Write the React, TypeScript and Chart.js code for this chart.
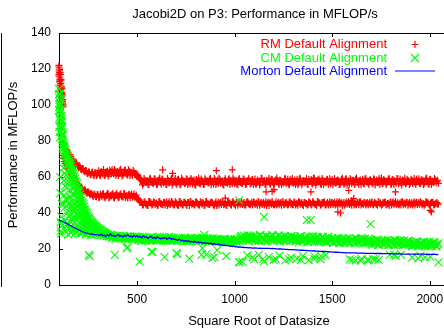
import React, { useEffect, useRef } from "react";
import { Chart, registerables } from "chart.js";
Chart.register(...registerables);

const titleText = "Jacobi2D on P3: Performance in MFLOP/s";
const xTitle = "Square Root of Datasize";
const yTitle = "Performance in MFLOP/s";
const seriesNames = ["RM Default Alignment", "CM Default Alignment", "Morton Default Alignment"];
const seriesColors = ["#ff0000", "#00ff00", "#0000ff"];
const xTicks = [500, 1000, 1500, 2000];
const yTicks = [0, 20, 40, 60, 80, 100, 120, 140];

const sizes = [
  100,108,116,124,132,140,148,156,164,172,180,188,196,204,212,220,228,236,244,252,260,268,276,284,292,
  300,308,316,324,332,340,348,356,364,372,380,388,396,404,412,420,428,436,444,452,460,468,476,484,492,
  500,508,516,524,532,540,548,556,564,572,580,588,596,604,612,620,628,636,644,652,660,668,676,684,692,
  700,708,716,724,732,740,748,756,764,772,780,788,796,804,812,820,828,836,844,852,860,868,876,884,892,
  900,908,916,924,932,940,948,956,964,972,980,988,996,1004,1012,1020,1028,1036,1044,1052,1060,1068,1076,1084,1092,
  1100,1108,1116,1124,1132,1140,1148,1156,1164,1172,1180,1188,1196,1204,1212,1220,1228,1236,1244,1252,1260,1268,1276,1284,1292,
  1300,1308,1316,1324,1332,1340,1348,1356,1364,1372,1380,1388,1396,1404,1412,1420,1428,1436,1444,1452,1460,1468,1476,1484,1492,
  1500,1508,1516,1524,1532,1540,1548,1556,1564,1572,1580,1588,1596,1604,1612,1620,1628,1636,1644,1652,1660,1668,1676,1684,1692,
  1700,1708,1716,1724,1732,1740,1748,1756,1764,1772,1780,1788,1796,1804,1812,1820,1828,1836,1844,1852,1860,1868,1876,1884,1892,
  1900,1908,1916,1924,1932,1940,1948,1956,1964,1972,1980,1988,1996,2004,2012,2020,2028,2036,2044,
];

const sizesMid = [
  104,112,120,128,136,144,152,160,168,176,184,192,200,208,216,224,232,240,248,256,264,272,280,288,296,
  304,312,320,328,336,344,352,360,368,376,384,392,400,408,416,424,432,440,448,456,464,472,480,488,496,
  504,512,520,528,536,544,552,560,568,576,584,592,600,608,616,624,632,640,648,656,664,672,680,688,696,
  704,712,720,728,736,744,752,760,768,776,784,792,800,808,816,824,832,840,848,856,864,872,880,888,896,
  904,912,920,928,936,944,952,960,968,976,984,992,1000,1008,1016,1024,1032,1040,1048,1056,1064,1072,1080,1088,1096,
  1104,1112,1120,1128,1136,1144,1152,1160,1168,1176,1184,1192,1200,1208,1216,1224,1232,1240,1248,1256,1264,1272,1280,1288,1296,
  1304,1312,1320,1328,1336,1344,1352,1360,1368,1376,1384,1392,1400,1408,1416,1424,1432,1440,1448,1456,1464,1472,1480,1488,1496,
  1504,1512,1520,1528,1536,1544,1552,1560,1568,1576,1584,1592,1600,1608,1616,1624,1632,1640,1648,1656,1664,1672,1680,1688,1696,
  1704,1712,1720,1728,1736,1744,1752,1760,1768,1776,1784,1792,1800,1808,1816,1824,1832,1840,1848,1856,1864,1872,1880,1888,1896,
  1904,1912,1920,1928,1936,1944,1952,1960,1968,1976,1984,1992,2000,2008,2016,2024,2032,2040,
];

const rmHigh = [
  121,114,106,78.3,75.6,75.2,72.6,72.4,69.8,69.9,67.5,67.9,65.7,66.2,64.3,64.8,63.2,63.6,62.1,62.9,61.4,62.5,61.1,62.3,60.9,
  62.4,61.2,63.1,61.8,60.9,62.7,63.4,61.5,62.9,64.0,61.7,63.3,62.2,60.8,63.6,62.5,61.3,63.8,62.0,61.1,63.2,62.6,60.9,62.8,61.6,
  61.5,59.8,58.6,57.9,56.4,58.3,57.1,55.9,58.7,57.6,56.8,59.0,57.3,56.1,58.4,57.0,58.9,56.6,57.7,55.8,58.1,57.4,59.1,56.9,57.8,
  56.3,58.5,57.2,55.9,58.0,57.5,56.7,58.8,57.1,56.2,58.3,57.7,55.7,58.6,57.0,56.5,58.9,57.3,56.0,58.2,57.6,56.8,59.2,57.4,56.1,
  58.4,57.0,56.4,58.7,57.5,55.8,58.1,57.2,56.6,59.0,57.8,56.3,58.5,57.1,55.9,58.3,57.6,56.7,58.9,57.3,56.2,58.0,57.7,56.5,58.6,
  57.2,56.0,58.4,57.5,56.8,59.1,57.3,55.8,58.2,57.6,56.4,58.8,57.0,56.6,58.5,57.9,55.9,58.1,57.4,56.7,59.0,57.2,56.3,58.6,57.8,
  56.5,58.3,57.1,55.7,58.9,57.5,56.8,58.0,57.3,56.1,58.7,57.6,56.4,59.2,57.0,56.9,58.4,57.7,55.9,58.2,57.4,56.6,58.8,57.1,56.3,
  58.5,57.3,56.7,58.1,57.8,55.8,58.6,57.2,56.5,59.0,57.5,56.2,58.3,57.9,56.8,58.7,57.1,55.9,58.4,57.6,56.4,58.9,57.3,56.6,58.2,
  57.7,56.1,58.5,57.4,56.9,59.1,57.8,56.3,58.6,57.2,56.7,58.8,57.5,56.0,58.3,57.9,56.5,59.0,57.6,56.8,58.4,57.3,56.2,58.7,57.8,
  56.6,58.2,57.5,56.9,58.9,57.7,56.4,58.5,57.9,56.7,59.0,57.4,56.3,58.6,57.8,56.8,58.3,57.6,56.5,
];

const rmHighMid = [
  118,110,79.0,76.5,74.6,73.8,71.6,71.2,69.1,68.9,67.0,66.8,65.3,65.7,64.0,64.6,62.9,63.5,61.8,62.7,61.2,62.8,60.8,62.4,61.3,
  63.5,60.7,62.3,64.1,61.0,62.8,60.5,63.9,61.6,62.4,64.2,60.8,63.0,61.9,64.3,60.6,62.7,63.7,61.2,64.0,60.7,62.1,63.6,61.4,60.9,
  60.8,59.0,58.4,55.6,59.2,56.9,58.0,55.8,59.3,57.0,56.2,58.9,55.7,57.8,59.4,56.0,58.6,57.3,55.9,59.1,56.7,58.2,55.6,57.5,59.2,
  56.0,58.7,55.7,59.3,57.2,56.4,58.9,55.8,57.9,59.2,56.1,58.4,55.6,57.6,59.4,56.3,58.1,55.9,59.0,57.4,56.6,58.8,55.7,57.7,59.1,
  55.9,58.2,59.3,56.5,57.8,55.6,59.0,56.8,58.5,55.8,57.3,59.4,56.2,58.0,55.7,59.1,57.0,56.4,58.7,55.9,57.6,59.2,56.1,58.3,55.8,
  58.9,56.3,57.7,55.6,59.3,56.9,58.1,55.9,57.4,59.2,56.0,58.6,55.7,57.9,59.4,56.5,58.3,55.8,57.2,59.0,56.2,58.7,55.6,57.8,59.1,
  57.0,55.8,58.8,56.4,59.3,55.7,58.0,56.8,59.1,55.9,57.5,58.6,56.1,59.4,55.6,57.8,58.9,56.3,59.2,55.8,57.3,58.5,56.0,59.0,57.6,
  55.7,59.1,56.6,58.4,55.9,57.2,59.3,56.0,58.7,55.6,57.9,59.0,56.4,58.2,55.8,59.4,56.9,57.6,55.7,58.8,56.2,59.2,57.4,55.9,58.5,
  56.8,59.0,55.6,58.3,57.1,55.9,59.4,56.5,58.0,55.7,57.7,59.2,56.1,58.6,55.8,57.5,59.1,56.3,58.9,55.6,57.9,59.3,56.7,58.1,55.9,
  58.7,56.2,59.2,55.8,57.6,59.0,56.5,58.4,55.7,57.9,59.3,56.0,58.8,55.9,57.4,59.1,56.6,58.2,
];

const rmLow = [
  117,109,102,70.2,67.6,66.4,64.1,63.3,61.0,60.4,58.1,57.5,55.4,55.2,53.6,53.4,52.0,52.3,51.0,51.4,50.1,50.6,49.3,50.2,49.0,
  50.1,48.7,49.8,50.6,48.9,49.4,50.8,48.5,49.9,50.3,48.8,49.6,51.0,48.6,50.2,49.3,48.9,50.7,49.5,48.4,50.4,49.8,48.7,50.5,49.2,
  48.4,47.3,46.2,45.8,44.6,46.1,45.0,44.2,46.4,45.5,44.8,46.0,45.2,44.3,46.3,45.1,44.7,45.9,44.4,46.2,45.3,44.9,46.5,45.0,44.5,
  45.7,44.3,46.2,45.1,44.6,46.0,45.4,44.2,45.8,46.4,44.9,45.3,44.5,46.1,45.0,44.4,45.9,45.6,44.1,46.3,45.2,44.8,45.7,46.0,44.6,
  45.3,44.2,46.1,45.6,44.7,45.9,45.0,44.4,46.3,45.4,44.6,45.8,45.1,44.3,46.0,45.5,44.9,46.2,45.2,44.5,45.7,46.1,44.8,45.3,44.4,
  45.9,45.0,44.3,46.2,45.4,44.7,45.8,45.1,44.2,46.0,45.6,44.9,45.3,44.5,46.3,45.2,44.6,45.7,46.1,44.4,45.5,45.0,44.8,46.2,45.3,
  44.6,45.8,45.2,44.3,46.0,45.5,44.7,45.9,45.1,44.4,46.3,45.4,44.9,45.7,45.0,44.2,46.1,45.6,44.8,45.3,46.0,44.5,45.8,45.1,44.6,
  45.9,45.3,44.4,46.2,45.5,44.8,45.7,45.0,44.3,46.1,45.6,44.7,45.4,46.0,44.5,45.2,45.8,44.6,46.3,45.1,44.9,45.7,45.3,44.4,46.0,
  45.5,44.8,45.9,45.2,44.3,46.1,45.6,44.7,45.4,46.0,44.6,45.1,45.8,44.4,46.2,45.3,44.9,45.7,45.0,44.5,46.1,45.5,44.8,45.9,45.2,
  44.6,45.8,45.3,44.4,46.0,45.5,44.9,45.7,45.1,44.3,46.2,45.6,44.7,45.4,45.9,44.6,45.2,45.8,45.0,
];

const rmLowMid = [
  114,106,72.0,68.6,67.4,64.9,64.2,61.9,61.3,59.0,58.5,56.3,56.0,54.3,54.0,52.6,53.0,51.4,51.9,50.5,51.0,49.6,50.5,49.2,50.3,
  48.6,50.4,49.1,50.7,48.5,49.9,50.6,48.7,49.4,50.9,48.4,50.1,49.6,48.8,50.5,49.0,50.8,48.6,49.7,50.2,48.5,50.6,49.3,48.8,50.0,
  47.8,46.7,46.0,44.4,46.3,45.0,44.2,46.4,45.7,44.5,46.1,44.9,45.6,44.3,46.4,45.2,44.6,46.0,45.4,44.2,46.3,44.8,45.9,44.5,46.2,
  45.0,44.3,46.4,45.6,44.5,46.0,44.8,45.8,44.2,46.3,45.3,44.6,46.1,45.5,44.4,46.2,44.9,45.7,44.3,46.4,45.1,44.7,46.0,45.4,44.2,
  46.2,45.0,44.4,45.8,46.3,44.6,45.3,44.2,46.0,45.6,44.5,46.4,44.9,45.7,44.3,46.1,45.2,44.7,45.9,44.4,46.3,45.1,44.6,45.8,46.2,
  44.8,45.5,46.3,44.3,45.9,45.1,44.5,46.2,45.4,44.2,45.7,46.4,44.7,45.2,44.4,46.0,45.6,44.3,46.3,44.9,45.8,44.5,46.1,45.0,44.6,
  46.1,44.5,45.4,46.3,44.8,45.7,44.2,46.0,45.3,44.6,45.9,44.4,46.2,45.0,44.7,46.4,45.5,44.3,45.8,46.1,44.6,45.2,44.4,46.3,45.7,
  44.7,46.0,45.2,44.4,46.3,45.6,44.2,45.9,45.1,44.8,46.2,45.4,44.3,46.4,45.0,44.6,45.7,46.1,44.5,45.3,46.0,44.4,45.8,45.2,44.9,
  46.2,44.5,45.6,44.9,46.3,45.1,44.3,45.8,46.0,44.7,45.4,44.2,46.1,45.5,44.8,46.4,45.0,44.4,45.7,46.2,44.6,45.3,46.0,44.3,45.9,
  45.1,44.4,46.2,45.5,44.7,45.9,46.3,44.5,45.2,44.8,46.1,45.6,44.3,45.8,46.0,44.6,45.4,44.9,
];

const cmBand = [
  106,97,88,78.5,75.2,72.4,70.1,68.3,66.2,63.5,60.8,57.6,54.7,51.9,48.8,46.1,43.5,41.2,39.4,37.6,36.1,34.8,33.9,33.0,32.2,
  31.5,30.8,30.2,29.5,29.1,28.4,28.0,27.3,27.8,26.6,27.4,26.2,27.0,25.9,26.8,26.1,27.2,25.8,26.5,27.1,25.7,26.4,26.9,25.6,26.3,
  26.8,25.1,26.2,24.7,25.9,26.6,24.9,25.5,26.4,25.0,24.6,26.1,25.3,26.7,24.8,25.6,26.3,24.5,25.8,26.0,24.7,25.4,26.5,25.1,24.9,
  25.9,24.3,25.6,26.2,24.7,25.1,26.0,24.5,25.4,25.8,24.2,25.7,26.1,24.6,25.2,25.9,24.4,25.5,26.0,24.8,25.3,24.1,25.8,25.0,24.6,
  25.5,24.0,25.2,24.6,23.8,25.4,24.9,23.9,25.1,24.4,25.6,24.1,24.8,25.3,23.9,24.7,25.8,27.2,25.4,26.9,24.8,27.6,25.9,26.5,24.9,
  27.3,25.1,26.6,24.6,27.8,25.7,26.2,24.4,27.1,25.9,26.8,24.9,27.5,25.3,26.0,24.7,27.4,25.6,26.5,24.5,27.0,25.8,26.3,24.8,27.2,
  25.2,26.7,24.3,26.1,25.0,27.0,24.6,25.8,26.4,24.1,26.9,25.4,24.8,26.3,25.7,24.2,26.6,25.1,24.5,26.8,25.5,24.0,26.2,25.3,24.7,
  25.9,23.6,25.2,24.1,26.1,23.4,24.9,25.6,23.7,25.8,24.3,23.2,25.5,24.6,23.9,26.0,24.2,23.5,25.3,24.8,23.1,25.7,24.0,23.8,25.1,
  24.9,22.6,24.3,23.1,25.2,22.4,23.8,24.6,22.7,24.8,23.3,22.2,24.5,23.6,22.9,25.0,23.2,22.5,24.3,23.8,22.1,24.7,23.0,22.8,24.1,
  23.9,21.7,23.4,22.2,24.2,21.5,22.9,23.7,21.8,23.9,22.4,21.3,23.6,22.7,21.9,24.0,22.3,21.6,23.2,
];

const cmBandMid = [
  101,92,83,77.0,73.6,71.5,69.0,67.5,64.6,62.2,59.1,56.3,53.0,50.4,47.2,44.9,42.1,40.3,38.4,36.9,35.3,34.4,33.3,32.6,31.8,
  31.1,30.5,29.8,29.4,28.8,28.1,27.6,26.9,27.7,26.4,27.3,25.9,26.9,27.4,25.8,26.6,27.0,25.6,26.8,25.9,27.1,26.2,25.5,26.7,26.0,
  25.3,26.5,24.6,26.9,25.0,24.8,26.3,25.7,24.5,26.6,25.2,26.0,24.7,25.9,26.8,24.9,25.4,26.4,24.6,25.6,26.7,25.0,24.8,26.2,25.5,
  24.8,26.1,25.3,24.4,25.9,26.3,24.6,25.5,24.3,26.0,25.1,24.7,25.8,26.2,24.5,25.3,24.9,26.1,24.4,25.6,25.9,24.6,25.2,26.0,24.8,
  24.3,25.6,24.1,25.3,24.8,23.8,25.5,24.5,24.0,25.2,24.6,23.9,25.4,24.2,25.0,24.4,26.6,24.7,27.5,25.6,26.2,24.6,27.3,25.5,26.7,
  24.5,26.9,25.4,27.6,24.8,26.4,25.1,27.2,24.3,26.6,25.6,27.7,24.7,26.1,25.2,27.5,24.6,26.7,25.0,27.3,24.4,26.5,25.7,27.0,24.9,
  26.4,24.5,25.9,23.7,27.0,25.0,24.2,26.6,25.5,23.9,26.2,24.7,27.1,24.0,25.6,26.8,23.8,25.2,26.5,24.4,25.8,23.6,26.9,24.8,25.3,
  23.4,25.6,24.0,26.0,23.3,24.7,25.9,23.6,25.1,24.2,26.1,23.5,24.8,25.4,23.1,25.7,24.4,23.8,26.0,24.1,25.3,23.3,24.9,25.8,23.7,
  22.5,24.6,23.2,25.1,22.3,23.9,24.7,22.6,24.2,23.0,25.0,22.4,23.7,24.4,22.1,24.8,23.4,22.7,24.9,23.1,24.3,22.2,23.8,24.6,22.9,
  23.1,21.6,23.8,22.4,24.1,21.9,23.3,22.7,24.0,21.5,23.5,22.2,23.9,21.8,22.8,23.6,21.4,22.6,
];

const mortonLine = [
  36.0,35.7,35.3,35.0,34.6,34.1,33.7,33.2,32.8,32.3,31.8,31.3,30.9,30.4,30.0,29.6,29.3,29.0,28.8,28.6,28.4,28.2,28.1,28.0,27.9,
  27.8,27.5,28.3,27.4,27.7,26.9,27.9,27.3,28.4,27.2,27.6,26.8,27.5,28.1,27.0,27.4,26.7,27.6,27.1,28.0,26.9,27.2,26.6,27.5,26.8,
  27.4,26.6,26.9,26.2,27.3,26.5,26.8,25.9,26.6,27.1,26.0,26.4,25.8,26.7,26.1,25.6,26.3,25.9,26.5,25.5,25.9,26.2,25.4,25.8,25.3,
  25.2,24.8,25.5,24.6,24.9,24.3,24.7,24.1,24.6,23.9,24.2,23.8,24.3,23.6,23.9,23.4,23.8,23.2,23.5,23.1,23.4,22.9,23.2,22.8,22.9,
  22.7,22.5,22.8,22.3,22.4,22.0,22.2,21.8,22.1,21.6,21.7,21.4,21.6,21.2,21.3,21.0,21.2,20.9,21.0,20.8,20.9,20.6,20.7,20.6,20.5,
  20.6,20.5,20.5,20.4,20.5,20.4,20.4,20.3,20.4,20.3,20.3,20.2,20.3,20.2,20.1,20.1,20.0,20.0,19.9,19.9,19.8,19.8,19.7,19.7,19.6,
  19.6,19.5,19.5,19.4,19.4,19.3,19.3,19.2,19.2,19.1,19.1,19.0,19.0,18.9,18.9,18.8,18.8,18.7,18.7,18.6,18.6,18.5,18.5,18.4,18.4,
  18.3,18.3,18.2,18.2,18.1,18.1,18.0,18.0,18.0,17.9,17.9,17.9,17.8,17.8,17.8,17.8,17.7,17.7,17.7,17.7,17.7,17.6,17.6,17.6,17.6,
  17.6,17.6,17.5,17.5,17.5,17.5,17.5,17.4,17.4,17.4,17.4,17.4,17.4,17.3,17.3,17.3,17.3,17.3,17.3,17.3,17.2,17.2,17.2,17.2,17.2,
  17.2,17.2,17.2,17.1,17.1,17.1,17.1,17.1,17.1,17.1,17.0,17.0,17.0,17.0,17.0,17.0,17.0,16.9,16.9,
];

const rmEarlyX = [100,100,101,102,103,104,105,106,107,108,109,110,111,112,113,114,115,116,117,118,119,120,121,122];
const rmEarlyY = [122,116,119,120,113,118,115,111,117,108,112,106,114,104,110,107,102,109,100,105,101,103,99,100];

const rmOutX = [631,682,906,988,952,1161,1192,1202,1391,1585,1600,1610,1529,1543,1824,2003,2008];
const rmOutY = [64,62,63.5,64,48.3,51.7,52,53,51.7,52.5,47,48,40.6,40,51.7,41.5,40.6];

const cmEarlyX = [
  100,100,101,101,102,102,103,103,104,104,105,105,106,106,107,107,108,108,109,109,110,111,112,113,114,115,116,117,118,119,110,112,114,116,
  121,123,125,127,129,131,133,135,137,139,141,143,145,147,151,153,155,157,159,161,165,167,169,171,173,177,179,181,183,185,
  189,191,193,195,199,201,203,205,209,211,213,217,219,221,225,227,231,233,237,239,243,247,251,255,259,263,267,273,279,285,
  291,297,305,313,321,329,337,345,
  118,122,126,134,138,144,150,158,162,168,174,178,184,188,194,198,206,214,218,224,232,238,248,256,264,272,282,
  124,128,132,136,140,146,149,152,154,160,163,166,170,172,176,180,182,186,190,192,196,200,204,208,212,216,222,228,234,240,244,252,260,270,276,288,
];
const cmEarlyY = [
  109,97,104,88,99,93,106,85,95,100,101,82,92,60,97,51,88,35,103,30,90,85,94,83,87,81,91,79,84,77,28.5,38,45,33,
  72,65,58,50,43,36,30,68,61,54,47,40,33,28,64,57,49,42,35,29,61,54,46,38,31,57,50,43,35,29,
  53,46,39,32,49,42,35,28.5,45,38,31,42,35,29,40,33,37,30,35,28,33,30,34,29,32,28,31,29,30.5,28,
  30,28.5,29.5,28,29,27.5,28.5,27.2,
  83,78,76,73,71,70,67,66,64,62,60,58,55,55.5,51,52,47,45,44,41.5,40,38.5,36.5,35.5,34,33,32,
  45,62,55,48,34,58,45,38,31,52,44,36,50,42,45,38,31,42,36,30,44,38,31,40,34,29,36,31,33,31,29,31,30,28,32,31,
];

const cmOutX = [
  253,258,386,447,452,513,574,580,641,702,707,768,830,835,845,855,886,896,911,957,
  1023,1025,1040,1065,1093,1100,1125,1144,1150,1175,1200,1212,1230,1260,1280,1290,1320,1340,1350,1380,
  1408,1410,1440,1442,1465,1590,1603,1620,1646,1650,1680,1688,1710,1722,1738,1795,1816,1825,1852,1910,
  1940,1952,1975,2003,2045,1023,1151,1370,1390,1697,
];
const cmOutY = [
  16.7,16,16.7,20.5,21,13,18.5,18.3,15.5,17.7,17.2,14.6,16.7,20.5,27.8,17,15,15.5,19.4,16,
  12.8,12.6,12.8,16.5,15.4,14.2,16.8,14.3,13.1,15.5,14,14.3,16.4,13.6,14.3,15.2,14.6,13.9,16.2,13.8,
  14.4,15.8,14.3,16.1,16.6,14.2,13.9,13.6,13.5,14.5,13.8,13.9,14.4,14.3,13.9,16.7,16.7,16.2,16.9,15.3,
  14.8,16.1,15.4,15.7,12.6,47,37.8,36.1,36.1,33.9,
];

const FONT = '"Liberation Sans", Arial, Helvetica, sans-serif';

function pts(xs: number[], ys: number[]) {
  return xs.map((x, i) => ({ x, y: ys[i] }));
}

const decor = {
  id: "decor",
  beforeDatasetsDraw(chart: any) {
    const { ctx, chartArea: a, scales } = chart;
    ctx.save();
    ctx.strokeStyle = "#000";
    ctx.lineWidth = 1;
    ctx.beginPath();
    ctx.moveTo(a.left + 0.5, a.top + 0.5);
    ctx.lineTo(a.left + 0.5, a.bottom + 0.5);
    ctx.lineTo(a.right + 0.5, a.bottom + 0.5);
    ctx.lineTo(a.right + 0.5, a.top + 0.5);
    ctx.closePath();
    const tl = 4;
    for (const v of xTicks) {
      const px = Math.round(scales.x.getPixelForValue(v)) + 0.5;
      ctx.moveTo(px, a.bottom);
      ctx.lineTo(px, a.bottom - tl);
      ctx.moveTo(px, a.top);
      ctx.lineTo(px, a.top + tl);
    }
    for (const v of yTicks) {
      const py = Math.round(scales.y.getPixelForValue(v)) + 0.5;
      ctx.moveTo(a.left, py);
      ctx.lineTo(a.left + tl, py);
      ctx.moveTo(a.right, py);
      ctx.lineTo(a.right - tl, py);
    }
    ctx.moveTo(1.5, 33);
    ctx.lineTo(1.5, 287);
    ctx.stroke();
    ctx.restore();
  },
  afterDraw(chart: any) {
    const { ctx } = chart;
    ctx.save();
    ctx.fillStyle = "#000";
    ctx.font = `13px ${FONT}`;
    ctx.textAlign = "center";
    ctx.textBaseline = "middle";
    ctx.fillText(titleText, 255, 14);
    ctx.fillText(xTitle, 259, 321);
    ctx.save();
    ctx.translate(13, 155);
    ctx.rotate(-Math.PI / 2);
    ctx.fillText(yTitle, 0, 0);
    ctx.restore();
    const rows = [44.5, 58, 71];
    ctx.textAlign = "right";
    seriesNames.forEach((name, i) => {
      ctx.fillStyle = seriesColors[i];
      ctx.fillText(name, 387, rows[i]);
    });
    ctx.lineWidth = 1.2;
    ctx.strokeStyle = seriesColors[0];
    ctx.beginPath();
    ctx.moveTo(415, rows[0] - 3.5);
    ctx.lineTo(415, rows[0] + 3.5);
    ctx.moveTo(411.5, rows[0]);
    ctx.lineTo(418.5, rows[0]);
    ctx.stroke();
    ctx.strokeStyle = seriesColors[1];
    ctx.beginPath();
    ctx.moveTo(411, rows[1] - 4);
    ctx.lineTo(419, rows[1] + 4);
    ctx.moveTo(411, rows[1] + 4);
    ctx.lineTo(419, rows[1] - 4);
    ctx.stroke();
    ctx.strokeStyle = seriesColors[2];
    ctx.lineWidth = 1.2;
    ctx.beginPath();
    ctx.moveTo(395, rows[2]);
    ctx.lineTo(435, rows[2]);
    ctx.stroke();
    ctx.restore();
  },
};

export default function App() {
  const ref = useRef<HTMLCanvasElement>(null);
  useEffect(() => {
    const canvas = ref.current;
    if (!canvas) return;
    Chart.defaults.font.family = FONT;
    const chart = new Chart(canvas, {
      type: "scatter",
      data: {
        datasets: [
          {
            label: seriesNames[0],
            data: [
              ...pts(sizes, rmHigh),
              ...pts(sizesMid, rmHighMid),
              ...pts(sizes, rmLow),
              ...pts(sizesMid, rmLowMid),
              ...pts(rmEarlyX, rmEarlyY),
              ...pts(rmOutX, rmOutY),
            ],
            pointStyle: "cross",
            pointRadius: 3.5,
            borderColor: seriesColors[0],
            backgroundColor: seriesColors[0],
            borderWidth: 1.2,
            order: 3,
            clip: false,
          },
          {
            label: seriesNames[1],
            data: [...pts(sizes, cmBand), ...pts(sizesMid, cmBandMid), ...pts(cmEarlyX, cmEarlyY), ...pts(cmOutX, cmOutY)],
            pointStyle: "crossRot",
            pointRadius: 5.6,
            borderColor: seriesColors[1],
            backgroundColor: seriesColors[1],
            borderWidth: 1.1,
            order: 2,
            clip: false,
          },
          {
            label: seriesNames[2],
            data: pts(sizes, mortonLine),
            showLine: true,
            pointRadius: 0,
            borderColor: seriesColors[2],
            backgroundColor: seriesColors[2],
            borderWidth: 1.3,
            order: 1,
            clip: false,
          },
        ],
      },
      options: {
        animation: false,
        responsive: false,
        devicePixelRatio: 1,
        events: [],
        layout: { padding: { left: 0, right: 5, top: 33, bottom: 0 } },
        plugins: { legend: { display: false }, tooltip: { enabled: false }, title: { display: false } },
        scales: {
          x: {
            type: "linear",
            min: 100,
            max: 2100,
            grid: { display: false, drawTicks: false },
            border: { display: false },
            ticks: {
              color: "#000",
              font: { size: 12 },
              padding: 7,
              maxRotation: 0,
              autoSkip: false,
              callback: (v: any) => String(v),
            },
            afterBuildTicks: (s: any) => {
              s.ticks = xTicks.map((v) => ({ value: v }));
            },
            afterFit: (s: any) => {
              s.height = 46;
            },
          },
          y: {
            type: "linear",
            min: 0,
            max: 140,
            grid: { display: false, drawTicks: false },
            border: { display: false },
            ticks: { color: "#000", font: { size: 12 }, padding: 8, autoSkip: false, callback: (v: any) => String(v) },
            afterBuildTicks: (s: any) => {
              s.ticks = yTicks.map((v) => ({ value: v }));
            },
            afterFit: (s: any) => {
              s.width = 59;
            },
          },
        },
      },
      plugins: [decor],
    } as any);
    return () => chart.destroy();
  }, []);
  return (
    <div style={{ position: "absolute", left: 0, top: 0, width: 444, height: 331, overflow: "hidden", background: "#fff" }}>
      <canvas ref={ref} width={456} height={331} style={{ display: "block", width: 456, height: 331 }} />
    </div>
  );
}
